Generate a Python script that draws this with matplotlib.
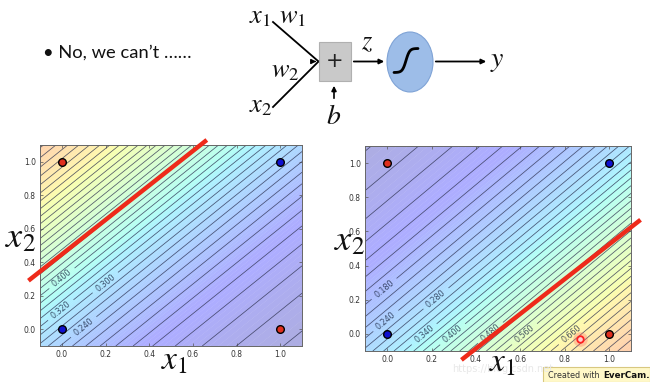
import numpy as np
import matplotlib
matplotlib.use('Agg')
import matplotlib.pyplot as plt
from matplotlib.patches import Rectangle, Ellipse

plt.rcParams['mathtext.fontset'] = 'stix'
plt.rcParams['font.family'] = ['DejaVu Sans']

# ---------------- data ----------------
red_pts_x = [0.0, 1.0]
red_pts_y = [1.0, 0.0]
blue_pts_x = [0.0, 1.0]
blue_pts_y = [0.0, 1.0]

# logistic model parameters (w1, w2, b)
left_w1, left_w2, left_b = -1.98, 1.89, -0.98
right_w1, right_w2, right_b = 2.0, -1.85, -1.0

contour_step = 0.02

left_label_vals = [0.400, 0.300, 0.320, 0.240]
left_label_pos = [(0.0, 0.305), (0.199, 0.279), (-0.005, 0.115), (0.08, 0.046)]
right_label_vals = [0.180, 0.240, 0.280, 0.340, 0.400, 0.480, 0.560, 0.660]
right_label_pos = [(-0.01, 0.258), (-0.01, 0.082), (0.222, 0.205), (0.166, 0.0),
                   (0.294, 0.0), (0.47, 0.0), (0.619, 0.0), (0.83, 0.0)]

left_line_x = [-0.153, 0.664]
left_line_y = [0.29, 1.13]
right_line_x = [0.335, 1.143]
right_line_y = [-0.152, 0.668]

pointer_x = [0.868]
pointer_y = [-0.03]

tick_vals = [0.0, 0.2, 0.4, 0.6, 0.8, 1.0]

# ---------------- figure ----------------
W, H = 650, 382
fig = plt.figure(figsize=(W / 100, H / 100), dpi=100)
fig.patch.set_facecolor('white')

ov = fig.add_axes([0, 0, 1, 1], zorder=0)
ov.set_xlim(0, W)
ov.set_ylim(H, 0)
ov.axis('off')

# bullet text
ov.text(43, 53, '\u2022 No, we can\u2019t \u2026\u2026', fontsize=13.2, family=['Lato', 'DejaVu Sans'],
        va='center', ha='left', color='#111111')

# neuron diagram
lk = dict(color='black', lw=1.3)
ov.plot([273, 318], [22, 61], **lk)
ov.plot([273, 318], [107, 62], **lk)
ov.annotate('', xy=(319, 61.5), xytext=(312, 61.5),
            arrowprops=dict(arrowstyle='-|>', color='black', lw=1.0, mutation_scale=7))
ov.add_patch(Rectangle((319, 42), 32, 39, facecolor='#c9c9c9', edgecolor='#b0b0b0', lw=0.8))
ov.text(335, 61, '+', fontsize=15, ha='center', va='center', color='#222222')
ov.annotate('', xy=(334, 83), xytext=(334, 101),
            arrowprops=dict(arrowstyle='-|>', color='black', lw=1.2, mutation_scale=7))
ov.annotate('', xy=(387, 61.5), xytext=(351, 61.5),
            arrowprops=dict(arrowstyle='-|>', color='black', lw=1.3, mutation_scale=7))
ov.add_patch(Ellipse((410, 62), 46, 60, facecolor='#9dbde8', edgecolor='#7fa3d6', lw=0.8))
sx = np.linspace(394, 418, 60)
sy = 72.5 - 24 / (1 + np.exp(-(sx - 406) * 0.55))
ov.plot(sx, sy, color='black', lw=2.0, solid_capstyle='round')
ov.annotate('', xy=(489, 61.5), xytext=(433, 61.5),
            arrowprops=dict(arrowstyle='-|>', color='black', lw=1.3, mutation_scale=7))
mk = dict(fontsize=19, ha='center', va='center', color='#111111')
ov.text(260, 16, r'$x_1$', **mk)
ov.text(293, 16, r'$w_1$', **mk)
ov.text(285, 70, r'$w_2$', **mk)
ov.text(261, 105, r'$x_2$', **mk)
ov.text(367, 42, r'$z$', **mk)
ov.text(334, 116, r'$b$', fontsize=20, ha='center', va='center', color='#111111')
ov.text(497, 60, r'$y$', fontsize=20, ha='center', va='center', color='#111111')

# watermark and EverCam badge
ov.text(452, 369, 'https://blog.csdn.net', fontsize=7, color='#e8e8e8', va='center')
ov.add_patch(Rectangle((543, 367), 107, 15, facecolor='#fff8c8', edgecolor='#d8c880', lw=0.8))
ov.text(548, 375, 'Created with', fontsize=5.8, color='#333333', va='center')
ov.text(603, 375, 'EverCam.', fontsize=6.3, color='#111111', va='center', fontweight='bold')

# ---------------- contour panels ----------------
gx = np.linspace(-0.1, 1.1, 300)
gX, gY = np.meshgrid(gx, gx)
line_style = dict(colors='#2b2f4f', linewidths=0.55, alpha=0.8)


def panel(rect, w1, w2, b, lab_vals, lab_pos, line_x, line_y, x1_pos, x2_pos):
    ax = fig.add_axes(rect, zorder=2)
    Z = 1.0 / (1.0 + np.exp(-(w1 * gX + w2 * gY + b)))
    ax.contourf(gX, gY, Z, levels=np.linspace(0, 1, 201), cmap='jet',
                vmin=0, vmax=1, alpha=0.32, antialiased=True)
    lab_r = [round(v, 3) for v in lab_vals]
    lv = [l for l in np.round(np.arange(contour_step, 1.0, contour_step), 3) if l not in lab_r]
    ax.contour(gX, gY, Z, levels=lv, **line_style)
    for v, p in zip(lab_r, lab_pos):
        cs1 = ax.contour(gX, gY, Z, levels=[v], **line_style)
        cs1.clabel([v], manual=[p], inline=True, fmt='%.3f',
                   fontsize=5.8, colors='#1c2845')
    ax.plot(red_pts_x, red_pts_y, 'o', ms=5.5, mfc='#e0301e', mec='black', mew=1.0, zorder=5)
    ax.plot(blue_pts_x, blue_pts_y, 'o', ms=5.5, mfc='#1010d0', mec='black', mew=1.0, zorder=5)
    ax.plot(line_x, line_y, color='#ee2a1a', lw=3.2, clip_on=False, zorder=6,
            solid_capstyle='butt')
    ax.set_xlim(-0.1, 1.1)
    ax.set_ylim(-0.1, 1.1)
    ax.set_xticks(tick_vals)
    ax.set_yticks(tick_vals)
    ax.set_xticklabels(['%.1f' % t for t in tick_vals])
    ax.set_yticklabels(['%.1f' % t for t in tick_vals])
    ax.tick_params(direction='in', top=True, right=True, length=2.5, width=0.5,
                   labelsize=5.5, labelcolor='#333333', color='#555555', pad=3)
    for s in ax.spines.values():
        s.set_color('#666666')
        s.set_linewidth(0.7)
    ax.text(x1_pos[0], x1_pos[1], r'$x_1$', transform=ax.transAxes, fontsize=24,
            ha='center', va='center', color='#111111', zorder=8)
    ax.text(x2_pos[0], x2_pos[1], r'$x_2$', transform=ax.transAxes, fontsize=26,
            ha='center', va='center', color='#111111', zorder=8)
    return ax


axL = panel([40 / W, 1 - 346 / H, 262 / W, 201 / H], left_w1, left_w2, left_b,
            left_label_vals, left_label_pos, left_line_x, left_line_y,
            (0.515, -0.07), (-0.075, 0.54))
axR = panel([365 / W, 1 - 351 / H, 266 / W, 205 / H], right_w1, right_w2, right_b,
            right_label_vals, right_label_pos, right_line_x, right_line_y,
            (0.515, -0.055), (-0.06, 0.54))

axR.scatter(pointer_x, pointer_y, s=110, color='#ff6060', alpha=0.3, zorder=6, linewidths=0)
axR.scatter(pointer_x, pointer_y, s=22, facecolor='#ffd0d0', edgecolor='#ff2020',
            linewidths=1.3, zorder=7)

fig.savefig('out.png', dpi=100)
